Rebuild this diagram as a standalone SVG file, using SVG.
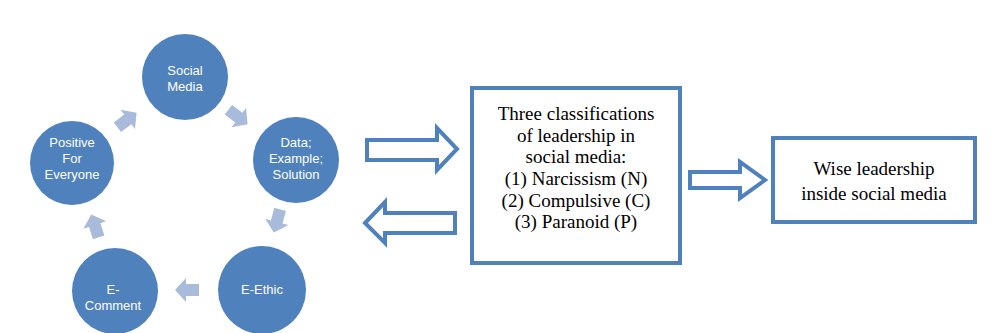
<svg xmlns="http://www.w3.org/2000/svg" width="992" height="333" viewBox="0 0 992 333">
<style>
.c{fill:#4F81BD}
.ct{font-family:"Liberation Sans",Arial,sans-serif;font-size:13px;fill:#fff;text-anchor:middle}
.sa{fill:#A9BBDA}
.ha{fill:none;stroke:#4F81BD;stroke-width:4;stroke-linejoin:miter}
.box{fill:#fff;stroke:#4F81BD;stroke-width:4}
.bt{font-family:"Liberation Serif","Times New Roman",serif;font-size:19px;fill:#000;text-anchor:middle}
</style>
<defs>
<path id="sarr" d="M-12,-6 L1,-6 L1,-12 L12,0 L1,12 L1,6 L-12,6 Z"/>
</defs>
<rect width="992" height="333" fill="#fff"/>
<g id="cycle-arrows">
<use href="#sarr" class="sa" transform="translate(238,117) rotate(37)"/>
<use href="#sarr" class="sa" transform="translate(277,221) rotate(105)"/>
<use href="#sarr" class="sa" transform="translate(187,290) rotate(180)"/>
<use href="#sarr" class="sa" transform="translate(95,226) rotate(-108)"/>
<use href="#sarr" class="sa" transform="translate(127,120) rotate(-37)"/>
</g>
<g id="social-media"><circle class="c" cx="185" cy="77" r="43"/><text class="ct" x="185" y="75">Social</text><text class="ct" x="185" y="91">Media</text></g>
<g id="data"><circle class="c" cx="296" cy="160" r="43"/><text class="ct" x="296" y="147">Data;</text><text class="ct" x="296" y="163">Example;</text><text class="ct" x="296" y="179">Solution</text></g>
<g id="e-ethic"><circle class="c" cx="262" cy="290" r="44"/><text class="ct" x="262" y="294">E-Ethic</text></g>
<g id="e-comment"><circle class="c" cx="115" cy="291" r="43"/><text class="ct" x="113" y="294">E-</text><text class="ct" x="113" y="310">Comment</text></g>
<g id="positive"><circle class="c" cx="72" cy="163" r="42"/><text class="ct" x="72" y="147">Positive</text><text class="ct" x="72" y="163">For</text><text class="ct" x="72" y="179">Everyone</text></g>
<g id="connectors">
<path class="ha" d="M367,140 L437,140 L437,128 L457,149 L437,170 L437,160 L367,160 Z"/>
<path class="ha" d="M455,213 L385,213 L385,202 L365,223 L385,243 L385,233 L455,233 Z"/>
<path class="ha" d="M690,172 L740,172 L740,162 L765,180 L740,198 L740,188 L690,188 Z"/>
</g>
<g id="classifications">
<rect class="box" x="472" y="88" width="208" height="175"/>
<text class="bt" x="576" y="120">Three classifications</text>
<text class="bt" x="576" y="142">of leadership in</text>
<text class="bt" x="576" y="163">social media:</text>
<text class="bt" x="576" y="185">(1) Narcissism (N)</text>
<text class="bt" x="576" y="207">(2) Compulsive (C)</text>
<text class="bt" x="576" y="228">(3) Paranoid (P)</text>
</g>
<g id="wise">
<rect class="box" x="773" y="138" width="202" height="84"/>
<text class="bt" x="874" y="175">Wise leadership</text>
<text class="bt" x="874" y="200">inside social media</text>
</g>
</svg>
